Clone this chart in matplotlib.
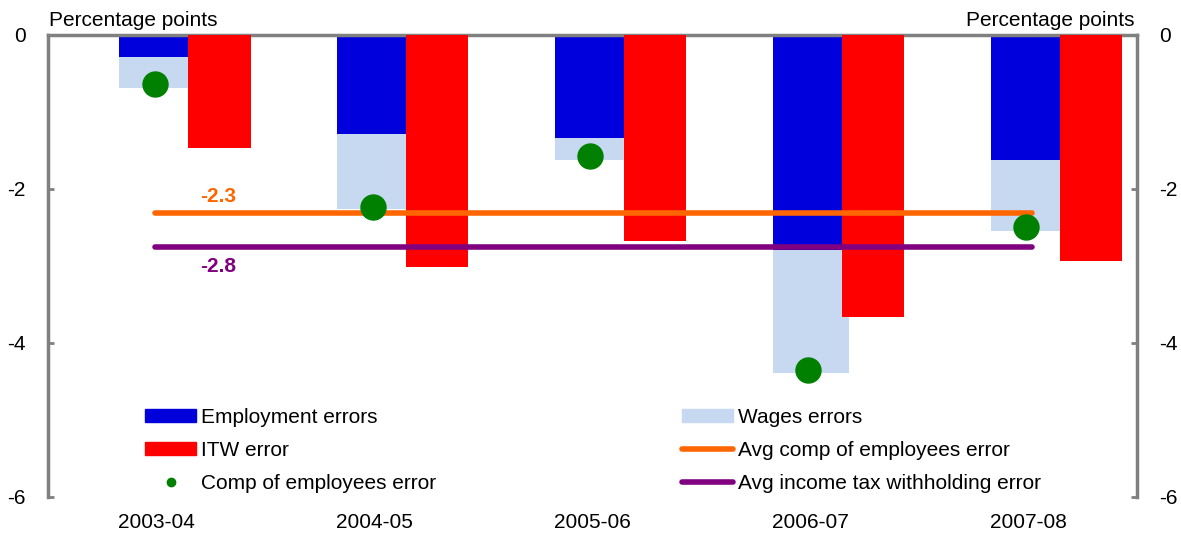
import matplotlib
matplotlib.use("Agg")
import matplotlib.pyplot as plt
from matplotlib.patches import Patch
from matplotlib.lines import Line2D
import numpy as np

plt.rcParams['font.family'] = ['Liberation Sans', 'DejaVu Sans']

categories = ["2003-04", "2004-05", "2005-06", "2006-07", "2007-08"]
employment_errors = [-0.29, -1.29, -1.34, -2.80, -1.63]
wages_errors = [-0.40, -0.97, -0.29, -1.59, -0.92]
itw_error = [-1.47, -3.02, -2.68, -3.67, -2.94]
comp_error = [-0.64, -2.24, -1.58, -4.36, -2.50]
avg_comp = -2.31
avg_itw = -2.76
avg_comp_label = "-2.3"
avg_itw_label = "-2.8"

BLUE = "#0000DD"
LIGHT = "#C6D9F0"
RED = "#FF0000"
GREEN = "#008000"
ORANGE = "#FF6600"
PURPLE = "#800080"
GRAY = "#808080"
FS = 15

fig = plt.figure(figsize=(11.81, 5.34), dpi=100)
ax = fig.add_axes([48/1181, 1-496.7/534, (1137-48)/1181, (496.7-34.7)/534])

x = np.arange(len(categories))
stack_w = 0.35
red_w = 0.285
stack_left = x - 0.172
red_left = x + 0.145

ax.bar(stack_left, employment_errors, width=stack_w, align='edge', color=BLUE, zorder=2)
ax.bar(stack_left, wages_errors, width=stack_w, align='edge', bottom=employment_errors,
       color=LIGHT, zorder=2)
ax.bar(red_left, itw_error, width=red_w, align='edge', color=RED, zorder=3)

ax.plot([x[0] - 0.01, x[-1] + 0.02], [avg_comp, avg_comp], color=ORANGE, lw=4,
        solid_capstyle='round', zorder=4)
ax.plot([x[0] - 0.01, x[-1] + 0.02], [avg_itw, avg_itw], color=PURPLE, lw=4,
        solid_capstyle='round', zorder=4)
ax.plot(x - 0.01, comp_error, linestyle='none', marker='o', markersize=18,
        color=GREEN, zorder=5)

ax.text(0.28, -2.10, avg_comp_label, color=ORANGE, fontsize=FS, fontweight='bold',
        ha='center', va='center')
ax.text(0.28, -3.01, avg_itw_label, color=PURPLE, fontsize=FS, fontweight='bold',
        ha='center', va='center')

ax.set_xlim(-0.5, 4.5)
ax.set_ylim(-6, 0)
ax.set_xticks(x)
ax.set_xticklabels(categories, fontsize=FS)
ax.tick_params(axis='x', length=0, pad=12)
ax.set_yticks([0, -2, -4, -6])
ax.set_yticklabels(["0", "-2", "-4", "-6"])
ax.tick_params(axis='y', direction='in', length=4, width=2, color=GRAY, labelsize=FS,
               pad=16, left=True, right=True, labelleft=True, labelright=True)

for s in ['left', 'right', 'top']:
    ax.spines[s].set_color(GRAY)
    ax.spines[s].set_linewidth(2.5)
ax.spines['bottom'].set_visible(False)

ax.annotate("Percentage points", xy=(0, 1), xycoords='axes fraction', xytext=(1, 6),
            textcoords='offset points', ha='left', va='baseline', fontsize=FS)
ax.annotate("Percentage points", xy=(1, 1), xycoords='axes fraction', xytext=(-2, 6),
            textcoords='offset points', ha='right', va='baseline', fontsize=FS)

h1 = [Patch(color=BLUE), Patch(color=RED),
      Line2D([], [], linestyle='none', marker='o', markersize=6, color=GREEN)]
l1 = ["Employment errors", "ITW error", "Comp of employees error"]
h2 = [Patch(color=LIGHT),
      Line2D([], [], color=ORANGE, lw=4, solid_capstyle='round'),
      Line2D([], [], color=PURPLE, lw=4, solid_capstyle='round')]
l2 = ["Wages errors", "Avg comp of employees error", "Avg income tax withholding error"]

common = dict(frameon=False, fontsize=FS, loc='upper left', borderpad=0, borderaxespad=0,
              handlelength=2.45, handletextpad=0.25, labelspacing=0.68,
              handleheight=0.6, bbox_transform=fig.transFigure)
leg1 = fig.legend(h1, l1, bbox_to_anchor=(145/1181, 1-408/534), **common)
leg2 = fig.legend(h2, l2, bbox_to_anchor=(682/1181, 1-408/534), **common)

fig.savefig("out.png", dpi=100)
